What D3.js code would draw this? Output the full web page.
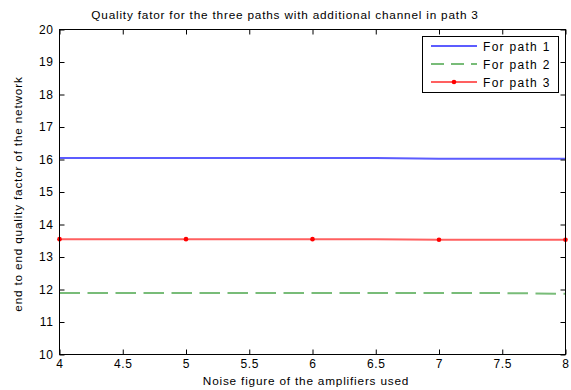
<!DOCTYPE html>
<html>
<head>
<meta charset="utf-8">
<script src="https://cdn.jsdelivr.net/npm/d3@7/dist/d3.min.js"></script>
<style>
  html, body { margin: 0; padding: 0; background: #fff; }
  svg { display: block; }
  text { font-family: "Liberation Sans", Arial, sans-serif; fill: #000; }
</style>
</head>
<body>
<svg id="chart" width="571" height="390"></svg>
<script>
// Noise figure of the amplifiers (x values)
const noiseFigure = [4, 4.5, 5, 5.5, 6, 6.5, 7, 7.5, 8];
// End-to-end quality factor for each path
const path1 = [16.05, 16.05, 16.05, 16.05, 16.05, 16.05, 16.02, 16.02, 16.02];
const path2 = [11.89, 11.89, 11.89, 11.89, 11.89, 11.89, 11.89, 11.89, 11.87];
const path3 = [13.55, 13.55, 13.55, 13.55, 13.55, 13.55, 13.53, 13.53, 13.53];

const xTicks = [4, 4.5, 5, 5.5, 6, 6.5, 7, 7.5, 8];
const yTicks = [10, 11, 12, 13, 14, 15, 16, 17, 18, 19, 20];
const seriesNames = ["For path 1", "For path 2", "For path 3"];

const svg = d3.select("#chart");
const plotLeft = 59.5, plotRight = 565.5, plotTop = 29.5, plotBottom = 354.5;

const x = d3.scaleLinear().domain([4, 8]).range([plotLeft, plotRight]);
const y = d3.scaleLinear().domain([10, 20]).range([plotBottom, plotTop]);

const tickFont = "12px";
const labelFont = "11.8px";
const spacing = "0.8px";

// series lines
const line = d3.line().x((d, i) => x(noiseFigure[i])).y(d => y(d));
const series = [
  { values: path1, color: "#5c5cff", dash: null },
  { values: path2, color: "#78bc78", dash: "20.5,7.5" },
  { values: path3, color: "#ff6060", dash: null }
];
series.forEach(s => {
  svg.append("path").datum(s.values)
    .attr("d", line)
    .attr("fill", "none")
    .attr("stroke", s.color)
    .attr("stroke-width", 2)
    .attr("stroke-dasharray", s.dash);
});

// markers for path 3 at integer noise figures
svg.append("g").selectAll("circle")
  .data(noiseFigure.map((v, i) => [v, path3[i]]).filter(d => Number.isInteger(d[0])))
  .join("circle")
  .attr("cx", d => x(d[0])).attr("cy", d => y(d[1]))
  .attr("r", 2.3).attr("fill", "#ff0000");

// axes with inward ticks on all four sides
function styleAxis(g) {
  g.selectAll(".domain").remove();
  g.selectAll("line").attr("stroke", "#000");
  g.selectAll("text").style("font-size", tickFont).style("letter-spacing", "0.6px");
}
svg.append("g").attr("transform", `translate(0,${plotBottom})`)
  .call(d3.axisBottom(x).tickValues(xTicks).tickSize(-5).tickPadding(5).tickFormat(d3.format("")))
  .call(styleAxis);
svg.append("g").attr("transform", `translate(0,${plotTop})`)
  .call(d3.axisTop(x).tickValues(xTicks).tickSize(-5).tickFormat(""))
  .call(styleAxis);
svg.append("g").attr("transform", `translate(${plotLeft},0)`)
  .call(d3.axisLeft(y).tickValues(yTicks).tickSize(-5).tickPadding(6).tickFormat(d3.format("")))
  .call(styleAxis);
svg.append("g").attr("transform", `translate(${plotRight},0)`)
  .call(d3.axisRight(y).tickValues(yTicks).tickSize(-5).tickFormat(""))
  .call(styleAxis);

// axes box
svg.append("rect").attr("x", plotLeft).attr("y", plotTop)
  .attr("width", plotRight - plotLeft).attr("height", plotBottom - plotTop)
  .attr("fill", "none").attr("stroke", "#000").attr("stroke-width", 1);

// title and axis labels
svg.append("text").attr("x", 285).attr("y", 19)
  .attr("text-anchor", "middle").style("font-size", labelFont).style("letter-spacing", spacing)
  .text("Quality fator for the three paths with additional channel in path 3");
svg.append("text").attr("x", 306).attr("y", 385)
  .attr("text-anchor", "middle").style("font-size", labelFont).style("letter-spacing", spacing)
  .text("Noise figure of the amplifiers used");
svg.append("text")
  .attr("transform", `translate(22,194) rotate(-90)`)
  .attr("text-anchor", "middle").style("font-size", labelFont).style("letter-spacing", spacing)
  .text("end to end quality factor of the network");

// legend
const lg = svg.append("g");
lg.append("rect").attr("x", 422.5).attr("y", 36.5).attr("width", 136).attr("height", 56)
  .attr("fill", "#fff").attr("stroke", "#000");
seriesNames.forEach((name, i) => {
  const ly = 46 + i * 18;
  const s = series[i];
  lg.append("line").attr("x1", 431).attr("x2", 477).attr("y1", ly).attr("y2", ly)
    .attr("stroke", s.color).attr("stroke-width", 2)
    .attr("stroke-dasharray", s.dash ? "13,7" : null);
  if (i === 2) {
    lg.append("circle").attr("cx", 454).attr("cy", ly).attr("r", 2.3).attr("fill", "#ff0000");
  }
  lg.append("text").attr("x", 483).attr("y", ly + 4.5)
    .style("font-size", "12px").style("letter-spacing", "1.3px")
    .text(name);
});
</script>
</body>
</html>
